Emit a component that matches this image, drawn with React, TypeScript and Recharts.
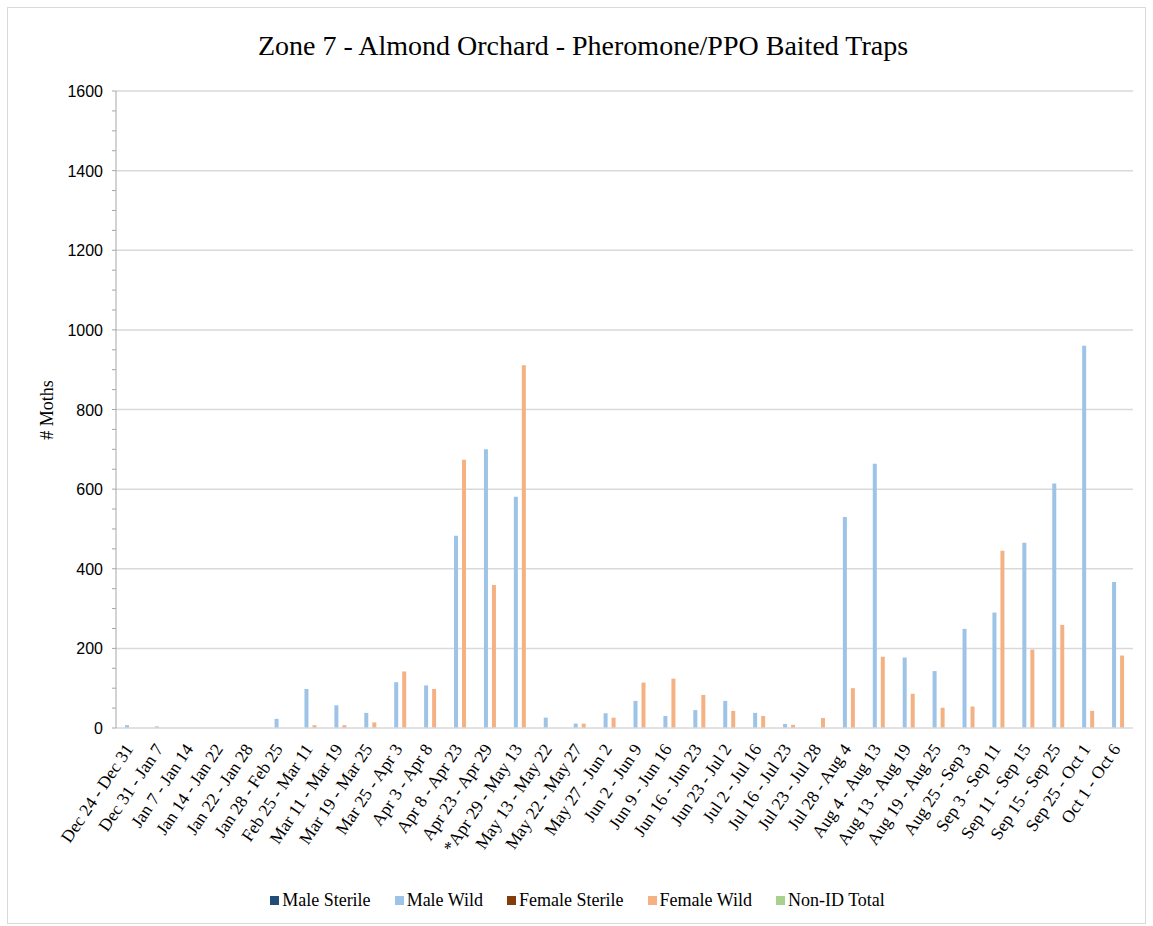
import React from 'react';
import { BarChart, Bar, XAxis, YAxis, CartesianGrid, Legend } from 'recharts';

const categories = [
  'Dec 24 - Dec 31', 'Dec 31 - Jan 7', 'Jan 7 - Jan 14', 'Jan 14 - Jan 22', 'Jan 22 - Jan 28',
  'Jan 28 - Feb 25', 'Feb 25 - Mar 11', 'Mar 11 - Mar 19', 'Mar 19 - Mar 25', 'Mar 25 - Apr 3',
  'Apr 3 - Apr 8', 'Apr 8 - Apr 23', 'Apr 23 - Apr 29', '*Apr 29 - May 13', 'May 13 - May 22',
  'May 22 - May 27', 'May 27 - Jun 2', 'Jun 2 - Jun 9', 'Jun 9 - Jun 16', 'Jun 16 - Jun 23',
  'Jun 23 - Jul 2', 'Jul 2 - Jul 16', 'Jul 16 - Jul 23', 'Jul 23 - Jul 28', 'Jul 28 - Aug 4',
  'Aug 4 - Aug 13', 'Aug 13 - Aug 19', 'Aug 19 - Aug 25', 'Aug 25 - Sep 3', 'Sep 3 - Sep 11',
  'Sep 11 - Sep 15', 'Sep 15 - Sep 25', 'Sep 25 - Oct 1', 'Oct 1 - Oct 6',
];

const maleSterile = [0, 0, 0, 0, 0, 0, 0, 0, 0, 0, 0, 0, 0, 0, 0, 0, 0, 0, 0, 0, 0, 0, 0, 0, 0, 0, 0, 0, 0, 0, 0, 0, 0, 0];
const maleWild = [7, 4, 0, 0, 0, 23, 98, 57, 38, 115, 107, 483, 700, 581, 26, 11, 37, 68, 30, 45, 68, 38, 10, 0, 530, 664, 177, 143, 249, 290, 465, 614, 960, 367];
const femaleSterile = [0, 0, 0, 0, 0, 0, 0, 0, 0, 0, 0, 0, 0, 0, 0, 0, 0, 0, 0, 0, 0, 0, 0, 0, 0, 0, 0, 0, 0, 0, 0, 0, 0, 0];
const femaleWild = [0, 0, 0, 0, 0, 0, 7, 7, 14, 142, 98, 674, 359, 911, 0, 11, 26, 114, 124, 83, 43, 30, 8, 25, 100, 179, 86, 51, 54, 445, 197, 259, 43, 182];
const nonIdTotal = [0, 0, 0, 0, 0, 0, 0, 0, 0, 0, 0, 0, 0, 0, 0, 0, 0, 0, 0, 0, 0, 0, 0, 0, 0, 0, 0, 0, 0, 0, 0, 0, 0, 0];

const seriesOrder = ['maleSterile', 'maleWild', 'femaleSterile', 'femaleWild', 'nonIdTotal'];

const yTicks = [0, 50, 100, 150, 200, 250, 300, 350, 400, 450, 500, 550, 600, 650, 700, 750, 800, 850, 900, 950, 1000, 1050, 1100, 1150, 1200, 1250, 1300, 1350, 1400, 1450, 1500, 1550, 1600];
const gridValues = [200, 400, 600, 800, 1000, 1200, 1400, 1600];

const data = categories.map((c, i) => ({
  name: c,
  maleSterile: maleSterile[i],
  maleWild: maleWild[i],
  femaleSterile: femaleSterile[i],
  femaleWild: femaleWild[i],
  nonIdTotal: nonIdTotal[i],
}));

const SERIF = '"Liberation Serif", "Times New Roman", serif';
const SANS = '"Liberation Sans", Arial, sans-serif';

const XTick = (props: any) => {
  const { x, y, payload } = props;
  return (
    <text
      x={0}
      y={0}
      transform={`translate(${x + 3},${y + 21}) rotate(-56)`}
      textAnchor="end"
      fontFamily={SERIF}
      fontSize={17.5}
      fill="#000"
    >
      {payload.value}
    </text>
  );
};

const YTick = (props: any) => {
  const { x, y, payload } = props;
  if (payload.value % 200 !== 0) return <g />;
  return (
    <text x={x} y={y} dy={6} textAnchor="end" fontFamily={SANS} fontSize={16} fill="#000">
      {payload.value}
    </text>
  );
};

const renderLegend = (props: any) => {
  const payload = [...(props.payload || [])].sort(
    (a: any, b: any) => seriesOrder.indexOf(a.dataKey) - seriesOrder.indexOf(b.dataKey)
  );
  return (
    <div
      style={{
        display: 'flex',
        justifyContent: 'center',
        gap: 24,
        fontFamily: SERIF,
        fontSize: 18,
        lineHeight: '20px',
        paddingLeft: 14,
        color: '#000',
      }}
    >
      {payload.map((p: any) => (
        <span key={p.value} style={{ display: 'flex', alignItems: 'center' }}>
          <span style={{ display: 'inline-block', width: 9, height: 9, background: p.color, marginRight: 3 }} />
          {p.value}
        </span>
      ))}
    </div>
  );
};

export default function App() {
  return (
    <div
      style={{
        position: 'absolute',
        left: 7,
        top: 7,
        width: 1139,
        height: 917,
        border: '1px solid #d9d9d9',
        boxSizing: 'border-box',
        background: '#fff',
      }}
    >
      <div
        style={{
          position: 'absolute',
          left: 0,
          top: 22,
          width: 1150,
          textAlign: 'center',
          fontFamily: SERIF,
          fontSize: 28,
          lineHeight: '32px',
          color: '#000',
        }}
      >
        Zone 7 - Almond Orchard - Pheromone/PPO Baited Traps
      </div>
      <div
        style={{
          position: 'absolute',
          left: 39 - 50,
          top: 402 - 10,
          width: 100,
          height: 20,
          textAlign: 'center',
          fontFamily: SERIF,
          fontSize: 18,
          lineHeight: '20px',
          transform: 'rotate(-90deg)',
          color: '#000',
        }}
      >
        # Moths
      </div>
      <BarChart
        width={1137}
        height={915}
        data={data}
        margin={{ top: 83, right: 12, bottom: 13, left: 0 }}
        barSize={4}
        barGap={0}
      >
        <CartesianGrid vertical={false} horizontalValues={gridValues} stroke="#d9d9d9" strokeWidth={1.5} />
        <XAxis
          dataKey="name"
          interval={0}
          tick={<XTick />}
          tickLine={false}
          tickSize={0}
          tickMargin={0}
          height={162}
          axisLine={{ stroke: '#d9d9d9', strokeWidth: 1.5 }}
        />
        <YAxis
          domain={[0, 1600]}
          ticks={yTicks}
          interval={0}
          width={108}
          tick={<YTick />}
          tickSize={4}
          tickMargin={9}
          tickLine={{ stroke: '#a6a6a6' }}
          axisLine={{ stroke: '#a6a6a6' }}
        />
        <Legend verticalAlign="bottom" content={renderLegend} />
        <Bar dataKey="maleSterile" name="Male Sterile" fill="#1F4E79" isAnimationActive={false} />
        <Bar dataKey="maleWild" name="Male Wild" fill="#9DC3E6" isAnimationActive={false} />
        <Bar dataKey="femaleSterile" name="Female Sterile" fill="#843C0C" isAnimationActive={false} />
        <Bar dataKey="femaleWild" name="Female Wild" fill="#F4B183" isAnimationActive={false} />
        <Bar dataKey="nonIdTotal" name="Non-ID Total" fill="#A9D18E" isAnimationActive={false} />
      </BarChart>
    </div>
  );
}
